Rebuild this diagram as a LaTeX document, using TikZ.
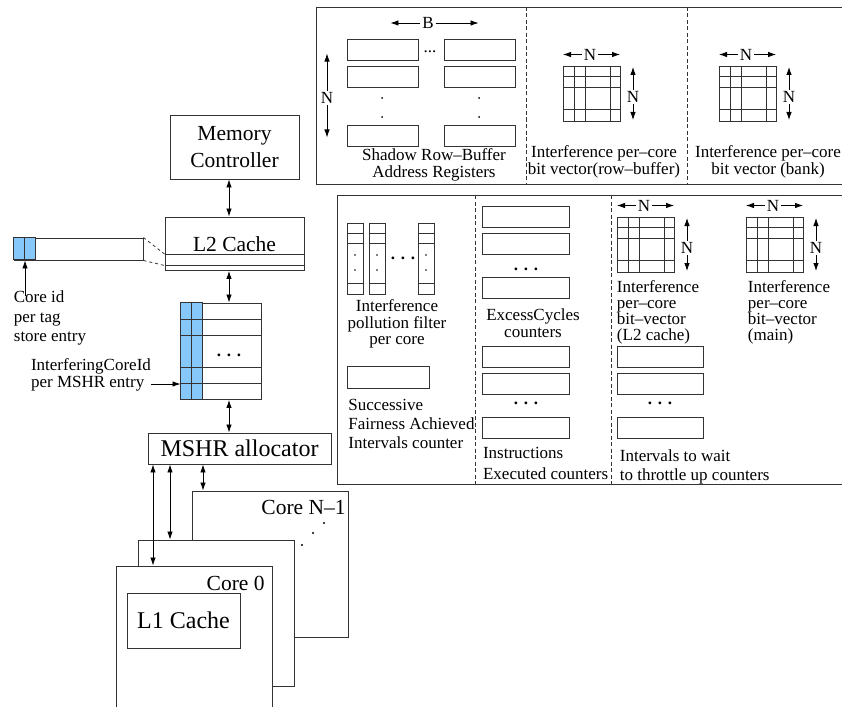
\documentclass[tikz,border=0pt]{standalone}
\usepackage{fontspec}
\setmainfont{Liberation Serif}
\usetikzlibrary{arrows.meta}
\definecolor{cellblue}{RGB}{135,200,250}
\tikzset{
  blk/.style={draw=black!80, line width=0.9pt, inner sep=0pt},
  reg/.style={draw=black!80, line width=0.8pt},
  sepline/.style={draw=black!80, line width=0.8pt, dash pattern=on 4pt off 2.5pt},
  bigtxt/.style={font=\fontsize{21.5}{27}\selectfont},
  hugetxt/.style={font=\fontsize{24}{24}\selectfont},
  smtxt/.style={font=\fontsize{17}{#1}\selectfont, inner sep=0pt},
  smtxt/.default=16.5,
  dimn/.style={font=\fontsize{17}{17}\selectfont, inner sep=1.5pt}
}

\begin{document}
\begin{tikzpicture}[x=1pt, y=-1pt, >={Latex[length=8pt,width=5.5pt]}, line width=0.8pt]
\useasboundingbox (0,0) rectangle (842,706);
\clip (0,0) rectangle (842,706);

% Memory controller, L2 cache, MSHR table, allocator
\node[blk, bigtxt, align=center, minimum width=129pt, minimum height=64pt] (mc) at (234.5,147) {Memory\\Controller};
\node[blk, bigtxt, minimum width=139pt, minimum height=53.5pt] (l2) at (234.5,243.75) {L2 Cache};
\coordinate (l2r1) at (0,254);
\coordinate (l2r2) at (0,265.5);
\draw[reg] (l2.west |- l2r1) -- (l2.east |- l2r1);
\draw[reg] (l2.west |- l2r2) -- (l2.east |- l2r2);

\node[blk, minimum width=80pt, minimum height=96.5pt] (mshr) at (221,351.25) {};
\draw[reg, fill=cellblue] (mshr.north west) rectangle ++(11,96.5);
\draw[reg, fill=cellblue] (mshr.north west) ++(11,0) rectangle ++(11,96.5);
\foreach \r in {16.5,33,65,81}
  \draw[reg] (mshr.north west) ++(0,\r) -- ++(80,0);
\node[smtxt] (mshrdots) at (229,355) {\textbf{. . .}};

\node[blk, hugetxt, minimum width=183pt, minimum height=31pt] (alloc) at (239.5,448.5) {MSHR allocator};

% Arrows down the hierarchy
\coordinate (ax) at (229,0);
\draw[<->] (ax |- mc.south) -- (ax |- l2.north);
\draw[<->] (ax |- l2.south) -- (ax |- mshr.north);
\draw[<->] (ax |- mshr.south) -- (ax |- alloc.north);

% Tag store entry
\node[blk, minimum width=129pt, minimum height=22pt] (tag) at (78.5,249) {};
\draw[reg, fill=cellblue] (tag.north west) rectangle ++(11,22);
\draw[reg, fill=cellblue] (tag.north west) ++(11,0) rectangle ++(11,22);
\draw[reg, dash pattern=on 3pt off 3pt] (tag.north east) -- (l2.west |- l2r1);
\draw[reg, dash pattern=on 3pt off 3pt] (tag.south east) -- (l2.west |- l2r2);

\node[smtxt=19.3, align=left] (cid) at (50,318) {Core id\\per tag\\store entry};
\coordinate (tagdiv) at (25,0);
\draw[->, shorten <=-5pt] (tagdiv |- cid.north) -- (tagdiv |- tag.south);

\node[smtxt=16.5, align=left] (icid) at (91,375) {InterferingCoreId\\per MSHR entry};
\coordinate (mrow) at (0,384);
\draw[->] (icid.east |- mrow) -- (mshr.west |- mrow);

% Cores
\node[blk, fill=white, minimum width=156pt, minimum height=146pt] (coreN) at (270,564) {};
\node[blk, fill=white, minimum width=156pt, minimum height=146pt] (core1) at (216,613) {};
\node[blk, fill=white, minimum width=156pt, minimum height=146pt] (core0) at (194,639) {};
\node[bigtxt, inner sep=0pt, anchor=east] (coreNt) at (346,507) {Core N–1};
\node[bigtxt, inner sep=0pt, anchor=east] (core0t) at (265,583) {Core 0};
\node[blk, hugetxt, minimum width=113pt, minimum height=55pt] (l1) at (183.5,620.5) {L1 Cache};
\foreach \x/\y in {324/523, 313/533, 302/545}
  \fill (\x,\y) circle (1.2);

\coordinate (a0) at (153,0);
\coordinate (a1) at (170,0);
\coordinate (aN) at (203,0);
\draw[<->] (a0 |- alloc.south) -- (a0 |- core0.north);
\draw[<->] (a1 |- alloc.south) -- (a1 |- core1.north);
\draw[<->] (aN |- alloc.south) -- (aN |- coreN.north);

% Upper panel: row-buffer registers and bit vectors
\draw[reg] (316,7) rectangle (850,184);
\draw[sepline] (526,7) -- (526,184);
\draw[sepline] (687,7) -- (687,184);

\foreach \x in {347,444}
  \foreach \y in {39,66,125}
    \draw[reg] (\x,\y) rectangle ++(71,21.5);
\foreach \x in {382,479}
  \foreach \y in {98,117}
    \fill (\x,\y) circle (1);
\node[smtxt] (regdots) at (430,52) {...};
\node[dimn] (bw) at (428,23) {B};
\draw[->] (bw.west) -- ++(-30,0);
\draw[->] (bw.east) -- ++(43,0);
\node[dimn] (nrows) at (327,98) {N};
\draw[->] (nrows.north) -- ++(0,-37);
\draw[->] (nrows.south) -- ++(0,32);
\node[smtxt, align=center] (regtxt) at (434,165) {Shadow Row–Buffer\\Address Registers};

% N x N bit vectors
\foreach \gx/\gy/\gn in {563/66/a, 719/66/b, 617/217/c, 746/217/d} {
  \draw[reg] (\gx,\gy) rectangle ++(57,55);
  \foreach \c in {11,22,47}
    \draw[reg] (\gx+\c,\gy) -- ++(0,55);
  \foreach \r in {10.5,21.5,43.5}
    \draw[reg] (\gx,\gy+\r) -- ++(57,0);
  \node[dimn] (nh\gn) at (\gx+27,\gy-11.5) {N};
  \draw[->] (nh\gn.west) -- (\gx,\gy-11.5);
  \draw[->] (nh\gn.east) -- (\gx+57,\gy-11.5);
  \node[dimn] (nv\gn) at (\gx+70,\gy+31) {N};
  \draw[->] (nv\gn.north) -- (\gx+70,\gy+1);
  \draw[->] (nv\gn.south) -- (\gx+70,\gy+54);
}
\node[smtxt, align=center] (rbtxt) at (604,162) {Interference per–core\\bit vector(row–buffer)};
\node[smtxt, align=center] (bktxt) at (768,162) {Interference per–core\\bit vector (bank)};

% Lower panel: filters and counters
\draw[reg] (337,195) rectangle (850,484);
\draw[sepline] (475,195) -- (475,484);
\draw[sepline] (611,195) -- (611,484);

\foreach \x in {347,369,418} {
  \draw[reg] (\x,223) rectangle ++(16,71);
  \foreach \r in {233,243,283}
    \draw[reg] (\x,\r) -- ++(16,0);
  \fill (\x+8,255) circle (0.9);
  \fill (\x+8,270) circle (0.9);
}
\node[smtxt] (fdots) at (403,258) {\textbf{. . .}};
\node[smtxt=16.7, align=center] (filtxt) at (397,324) {Interference\\pollution filter\\per core};
\draw[reg] (347,366.5) rectangle (429,388);
\node[smtxt=19.4, align=left] (sfatxt) at (411.5,424) {Successive\\Fairness Achieved\\Intervals counter};

\foreach \y in {206,233,277,346,373,417}
  \draw[reg] (482,\y) rectangle ++(87,21.5);
\node[smtxt] (ecdots) at (526,269) {\textbf{. . .}};
\node[smtxt] (iedots) at (526,403) {\textbf{. . .}};
\node[smtxt=16.5, align=center] (ectxt) at (533,323) {ExcessCycles\\counters};
\node[smtxt=21, align=left] (ietxt) at (545.6,463.5) {Instructions\\Executed counters};

\foreach \y in {346,373,417}
  \draw[reg] (617,\y) rectangle ++(86,21.5);
\node[smtxt] (itdots) at (660,403) {\textbf{. . .}};
\node[smtxt=16, align=left] (l2vtxt) at (658,312) {Interference\\per–core\\bit–vector\\(L2 cache)};
\node[smtxt=16, align=left] (mnvtxt) at (789,312) {Interference\\per–core\\bit–vector\\(main)};
\node[smtxt=19, align=left] (itwtxt) at (694.7,467) {Intervals to wait\\to throttle up counters};

\end{tikzpicture}
\end{document}
